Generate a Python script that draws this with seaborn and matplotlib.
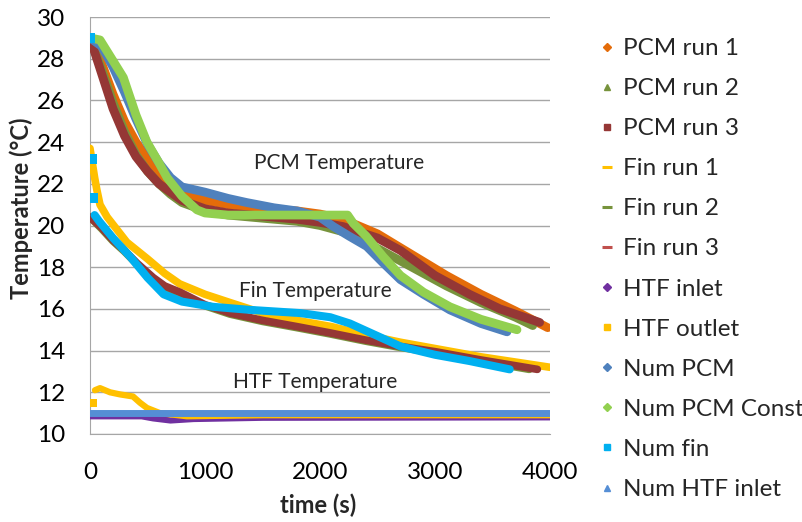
import numpy as np
import pandas as pd
import matplotlib
matplotlib.use("Agg")
import matplotlib.pyplot as plt
import seaborn as sns
from matplotlib.lines import Line2D

# ---------------- data ----------------
pcm1_t = [0, 100, 200, 300, 400, 500, 600, 700, 800, 1000, 1200, 1500, 1800, 2000, 2200, 2500, 2800, 3100, 3400, 3700, 3980]
pcm1_T = [29.0, 27.8, 26.3, 25.0, 24.0, 23.2, 22.5, 22.0, 21.6, 21.2, 21.0, 20.8, 20.7, 20.55, 20.3, 19.6, 18.6, 17.6, 16.7, 15.9, 15.1]

pcm2_t = [0, 100, 200, 300, 400, 500, 600, 700, 800, 1000, 1200, 1500, 1800, 2000, 2200, 2500, 2800, 3100, 3400, 3700, 3850]
pcm2_T = [29.0, 27.5, 25.9, 24.5, 23.4, 22.6, 22.0, 21.5, 21.1, 20.7, 20.5, 20.35, 20.2, 20.0, 19.7, 18.9, 18.0, 17.1, 16.3, 15.6, 15.2]

pcm3_t = [0, 100, 200, 300, 400, 500, 600, 700, 800, 1000, 1200, 1500, 1800, 2000, 2200, 2500, 2700, 3000, 3300, 3565, 3910]
pcm3_T = [29.0, 27.3, 25.6, 24.3, 23.3, 22.6, 22.0, 21.6, 21.2, 20.8, 20.6, 20.45, 20.3, 20.15, 19.95, 19.4, 18.8, 17.6, 16.7, 16.0, 15.35]

fin1_t = [0, 20, 40, 60, 87, 150, 320, 500, 650, 780, 1000, 1220, 1500, 1800, 2100, 2400, 2700, 3000, 3400, 3700, 4000]
fin1_T = [23.7, 23.0, 22.3, 21.7, 21.0, 20.4, 19.2, 18.4, 17.7, 17.2, 16.7, 16.3, 15.8, 15.45, 15.15, 14.75, 14.4, 14.1, 13.7, 13.45, 13.2]

fin2_t = [0, 100, 200, 300, 407, 550, 650, 783, 1000, 1217, 1500, 1800, 2087, 2400, 2700, 3000, 3400, 3820]
fin2_T = [20.4, 19.85, 19.25, 18.75, 18.15, 17.45, 17.05, 16.75, 16.15, 15.75, 15.4, 15.1, 14.8, 14.45, 14.15, 13.9, 13.5, 13.1]

fin3_t = [0, 100, 200, 300, 407, 550, 650, 783, 1000, 1217, 1500, 1800, 2087, 2400, 2700, 3000, 3400, 3890]
fin3_T = [20.4, 19.9, 19.3, 18.8, 18.2, 17.5, 17.1, 16.8, 16.2, 15.8, 15.45, 15.15, 14.85, 14.5, 14.2, 13.95, 13.55, 13.1]

htfin_t = [0, 450, 550, 700, 900, 1500, 4000]
htfin_T = [10.85, 10.85, 10.75, 10.65, 10.72, 10.78, 10.8]

htfout_t = [43, 87, 174, 260, 374, 435, 495, 609, 843, 1500, 4000]
htfout_T = [12.1, 12.2, 12.0, 11.9, 11.8, 11.5, 11.25, 11.0, 10.85, 10.9, 10.9]
htfout_first_t = [26]
htfout_first_T = [11.5]

numpcm_t = [0, 100, 200, 300, 400, 500, 600, 700, 800, 1000, 1200, 1364, 1600, 1800, 2000, 2116, 2250, 2406, 2550, 2700, 2900, 3130, 3400, 3626]
numpcm_T = [29.0, 28.6, 27.6, 26.4, 25.1, 23.9, 23.0, 22.3, 21.85, 21.6, 21.3, 21.1, 20.85, 20.7, 20.4, 19.95, 19.5, 19.0, 18.2, 17.4, 16.7, 15.95, 15.3, 14.9]

numconst_t = [0, 87, 200, 290, 400, 495, 600, 670, 800, 930, 1000, 1200, 2240, 2290, 2400, 2550, 2700, 2900, 3130, 3400, 3713]
numconst_T = [29.0, 28.9, 27.9, 27.1, 25.3, 24.0, 23.0, 22.3, 21.4, 20.75, 20.6, 20.5, 20.5, 20.1, 19.5, 18.5, 17.6, 16.8, 16.1, 15.5, 15.0]

numfin_pts_t = [0, 20, 25]
numfin_pts_T = [29.0, 23.2, 21.3]
numfin_t = [40, 80, 200, 350, 500, 640, 800, 1070, 1400, 1826, 2090, 2260, 2500, 2700, 3000, 3300, 3650]
numfin_T = [20.5, 20.2, 19.4, 18.5, 17.5, 16.7, 16.35, 16.1, 15.95, 15.8, 15.6, 15.3, 14.7, 14.2, 13.8, 13.5, 13.1]

numhtf_t = [0, 4000]
numhtf_T = [11.0, 11.0]

labels = ["PCM run 1", "PCM run 2", "PCM run 3", "Fin run 1", "Fin run 2", "Fin run 3",
          "HTF inlet", "HTF outlet", "Num PCM", "Num PCM Const", "Num fin", "Num HTF inlet"]
colors = ["#E46C0A", "#77933C", "#953735", "#FFC000", "#77933C", "#953735",
          "#7030A0", "#FFC000", "#4F81BD", "#92D050", "#00B0F0", "#558ED5"]
legend_colors = ["#E46C0A", "#77933C", "#953735", "#FFC000", "#77933C", "#C0504D",
                 "#7030A0", "#FFC000", "#4F81BD", "#92D050", "#00B0F0", "#558ED5"]
legend_markers = ["D", "^", "s", "_", "_", "_", "D", "s", "D", "D", "s", "^"]

series = [(pcm1_t, pcm1_T), (pcm2_t, pcm2_T), (pcm3_t, pcm3_T),
          (fin1_t, fin1_T), (fin2_t, fin2_T), (fin3_t, fin3_T),
          (htfin_t, htfin_T), (htfout_t, htfout_T),
          (numpcm_t, numpcm_T), (numconst_t, numconst_T),
          (numfin_t, numfin_T), (numhtf_t, numhtf_T)]
widths = [6.3, 6.3, 6.3, 5.5, 5.5, 5.5, 4.5, 4.5, 6.3, 6.3, 5.8, 5]

# ---------------- plotting ----------------
sns.set_style("white")
plt.rcParams['font.family'] = ['Lato', 'DejaVu Sans']

fig = plt.figure(figsize=(8.03, 5.22), dpi=100)
ax = fig.add_axes([90/803, 1-434/522, 460/803, 417/522])

for i, (lab, (t, T)) in enumerate(zip(labels, series)):
    df = pd.DataFrame({"time": t, "T": T})
    sns.lineplot(data=df, x="time", y="T", ax=ax, color=colors[i], linewidth=widths[i],
                 sort=False, estimator=None, legend=False, solid_capstyle="round", zorder=3 + i)

# isolated first points
sns.scatterplot(x=htfout_first_t, y=htfout_first_T, ax=ax, color="#FFC000", marker="s",
                s=40, linewidth=0, zorder=10, legend=False)
sns.scatterplot(x=numfin_pts_t, y=numfin_pts_T, ax=ax, color="#00B0F0", marker="s",
                s=60, linewidth=0, zorder=20, legend=False)

ax.set_xlim(0, 4000)
ax.set_ylim(10, 30)
ax.set_xticks([0, 1000, 2000, 3000, 4000])
ax.set_yticks(np.arange(10, 31, 2))
ax.grid(axis="y", color="#A6A6A6", linewidth=1)
ax.grid(axis="x", visible=False)
for s in ["top", "right"]:
    ax.spines[s].set_visible(False)
ax.spines["left"].set_color("#A6A6A6")
ax.spines["bottom"].set_color("#A6A6A6")
ax.tick_params(axis="both", length=0, labelsize=17.5, colors="black")
ax.tick_params(axis="x", pad=20)
ax.tick_params(axis="y", pad=18)

ax.set_xlabel("time (s)", fontsize=17, fontweight="bold")
ax.set_ylabel("Temperature (°C)", fontsize=17, fontweight="bold")
ax.xaxis.set_label_coords((318-90)/460, (434-494)/417)
ax.yaxis.set_label_coords((33-90)/460, (434-208)/417)

ax.text(2170, 23.0, "PCM Temperature", fontsize=15, ha="center", va="center", zorder=30)
ax.text(1960, 16.85, "Fin Temperature", fontsize=15, ha="center", va="center", zorder=30)
ax.text(1960, 12.5, "HTF Temperature", fontsize=15, ha="center", va="center", zorder=30)

handles = []
for lab, c, m in zip(labels, legend_colors, legend_markers):
    if m == "_":
        h = Line2D([], [], linestyle="none", marker=m, color=c, markersize=7, markeredgewidth=2.2, label=lab)
    else:
        h = Line2D([], [], linestyle="none", marker=m, color=c, markersize=4.5, label=lab)
    handles.append(h)
fig.legend(handles=handles, loc="upper left", bbox_to_anchor=(599.5/803, 1-38/522),
           frameon=False, fontsize=17.5, labelspacing=0.785, handlelength=0.6,
           handletextpad=0.35, borderaxespad=0, borderpad=0)

fig.savefig("out.png", dpi=100)
